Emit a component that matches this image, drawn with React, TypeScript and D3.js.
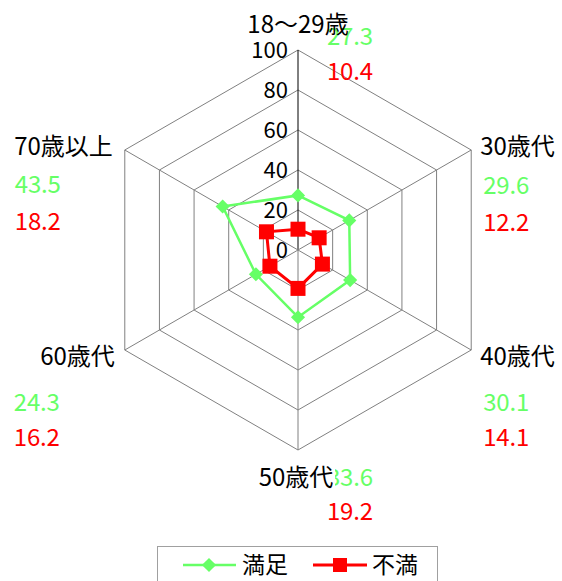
import React from 'react';
import * as d3 from 'd3';

// data
const categories = ['18～29歳', '30歳代', '40歳代', '50歳代', '60歳代', '70歳以上'];
const manzoku = [27.3, 29.6, 30.1, 33.6, 24.3, 43.5];
const fuman = [10.4, 12.2, 14.1, 19.2, 16.2, 18.2];
const ticks = [0, 20, 40, 60, 80, 100];
const seriesNames = ['満足', '不満'];

const GREEN = '#66ff66';
const RED = '#ff0000';
const FONT = '"Noto Sans CJK JP", sans-serif';

const width = 562;
const height = 581;
const cx = 298;
const cy = 250;
const R = 200;

// label placement relative to each axis end: [anchor, dx, dy, valueDx, valueDy1, valueDy2, bg]
const labelPos: [string, number, number, number, number, number, number[]][] = [
  ['middle', 0, -17, 29, -5, 30, [-55, 90, -50, -21]],
  ['start', 9, 5, 12, 44, 81, [-3, 80, -22, 4]],
  ['start', 9, 15, 12, 61, 96, [-3, 80, -22, 4]],
  ['middle', -2, 36, 29, 36, 70, [-40, 39, -22, 4]],
  ['end', -10, 15, -111, 61, 96, [-80, 3, -22, 4]],
  ['end', -12, 5, -110, 43, 80, [-104, 3, -22, 4]],
];

const App = () => {
  const r = d3.scaleLinear().domain([0, 100]).range([0, R]);
  const angle = d3.scaleLinear().domain([0, categories.length]).range([0, 2 * Math.PI]);
  const pt = (i: number, v: number): [number, number] => [
    cx + r(v) * Math.sin(angle(i)),
    cy - r(v) * Math.cos(angle(i)),
  ];

  const radial = d3
    .lineRadial<number>()
    .angle((_, i) => angle(i))
    .radius((d) => r(d))
    .curve(d3.curveLinearClosed);

  const ring = (v: number) => radial(categories.map(() => v)) as string;

  return (
    <svg width={width} height={height} style={{ position: 'absolute', left: 0, top: 0, background: '#fff' }}>
      <g>
        {ticks.slice(1).map((t) => (
          <path key={t} d={ring(t)} transform={`translate(${cx},${cy})`} fill="none" stroke="#808080" strokeWidth={1} />
        ))}
        {categories.map((c, i) => {
          const [x, y] = pt(i, 100);
          return <line key={c} x1={cx} y1={cy} x2={x} y2={y} stroke={i === 0 ? '#000' : '#808080'} strokeWidth={1} />;
        })}
        {ticks.map((t) => (
          <text key={t} x={cx - 10} y={cy - r(t) + 8} textAnchor="end" fontFamily={FONT} fontSize={22} fill="#000">
            {t}
          </text>
        ))}
      </g>

      <path d={radial(manzoku) as string} transform={`translate(${cx},${cy})`} fill="none" stroke={GREEN} strokeWidth={2.5} />
      {manzoku.map((v, i) => {
        const [x, y] = pt(i, v);
        return <rect key={i} x={-5} y={-5} width={10} height={10} fill={GREEN} transform={`translate(${x},${y}) rotate(45)`} />;
      })}
      <path d={radial(fuman) as string} transform={`translate(${cx},${cy})`} fill="none" stroke={RED} strokeWidth={3} />
      {fuman.map((v, i) => {
        const [x, y] = pt(i, v);
        return <rect key={i} x={x - 7.5} y={y - 7.5} width={15} height={15} fill={RED} />;
      })}

      {/* value labels */}
      {categories.map((c, i) => {
        const [x, y] = pt(i, 100);
        const p = labelPos[i];
        return (
          <g key={c} fontFamily={FONT} fontSize={24}>
            <text x={x + p[3]} y={y + p[4]} fill={GREEN} textLength={46} lengthAdjust="spacing">
              {manzoku[i].toFixed(1)}
            </text>
            <text x={x + p[3]} y={y + p[5]} fill={RED} textLength={46} lengthAdjust="spacing">
              {fuman[i].toFixed(1)}
            </text>
          </g>
        );
      })}

      {/* category labels */}
      {categories.map((c, i) => {
        const [x, y] = pt(i, 100);
        const p = labelPos[i];
        const lx = x + p[1];
        const ly = y + p[2];
        const bg = p[6];
        return (
          <g key={c}>
            <rect x={lx + bg[0]} y={ly + bg[2]} width={bg[1] - bg[0]} height={bg[3] - bg[2]} fill="#fff" />
            <text x={lx} y={ly} textAnchor={p[0]} fontFamily={FONT} fontSize={24} fill="#000">
              {c}
            </text>
          </g>
        );
      })}

      {/* legend */}
      <g transform="translate(157,546)">
        <rect x={0.5} y={0.5} width={280} height={50} fill="#fff" stroke="#a0a0a0" strokeWidth={1} />
        <line x1={26} x2={79} y1={19} y2={19} stroke={GREEN} strokeWidth={2.5} />
        <rect x={-5} y={-5} width={10} height={10} fill={GREEN} transform="translate(52,19) rotate(45)" />
        <text x={85} y={27} fontFamily={FONT} fontSize={23} fill="#000">
          {seriesNames[0]}
        </text>
        <line x1={156} x2={210} y1={19} y2={19} stroke={RED} strokeWidth={3} />
        <rect x={176} y={12} width={14} height={14} fill={RED} />
        <text x={215} y={27} fontFamily={FONT} fontSize={23} fill="#000">
          {seriesNames[1]}
        </text>
      </g>
    </svg>
  );
};

export default App;
